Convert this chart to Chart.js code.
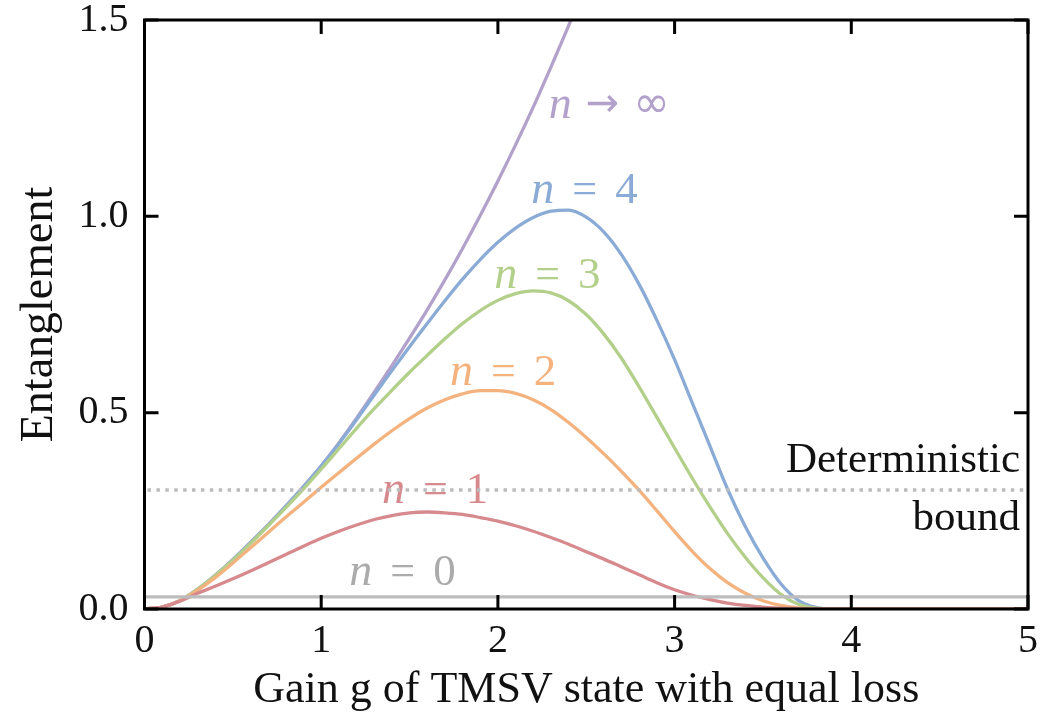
<!DOCTYPE html>
<html><head><meta charset="utf-8">
<script src="https://cdn.jsdelivr.net/npm/chart.js@4.4.0/dist/chart.umd.min.js"></script>
<style>html,body{margin:0;padding:0;background:#fff;}#wrap{width:1063px;height:714px;}</style>
</head><body><div id="wrap"><canvas id="c" width="1063" height="714"></canvas></div>
<script>
// ---- data ----
const gainX = [0.0,0.1,0.2,0.3,0.4,0.5,0.6,0.7,0.8,0.9,1.0,1.1,1.2,1.3,1.4,1.5,1.6,1.7,1.8,1.9,2.0,2.1,2.2,2.3,2.4,2.5,2.6,2.7,2.8,2.9,3.0,3.1,3.2,3.3,3.4,3.5,3.6,3.7,3.8,3.9,4.0,4.1,4.2,4.3,4.4,4.5,4.6,4.7,4.8,4.9,5.0];
const entN1 = [0,0.005,0.02,0.04,0.058,0.077,0.097,0.118,0.139,0.16,0.18,0.198,0.214,0.228,0.238,0.245,0.247,0.245,0.241,0.233,0.224,0.212,0.198,0.182,0.165,0.146,0.127,0.107,0.087,0.067,0.049,0.035,0.024,0.015,0.009,0.005,0.002,0.001,0,0,0,0,0,0,0,0,0,0,0,0,0];
const entN2 = [0,0.005,0.021,0.048,0.08,0.117,0.156,0.195,0.234,0.272,0.31,0.347,0.384,0.42,0.454,0.485,0.512,0.533,0.548,0.556,0.556,0.549,0.533,0.508,0.475,0.437,0.395,0.35,0.302,0.25,0.197,0.147,0.103,0.067,0.04,0.021,0.009,0.003,0,0,0,0,0,0,0,0,0,0,0,0,0];
const entN3 = [0,0.005,0.021,0.05,0.085,0.124,0.167,0.212,0.258,0.306,0.356,0.408,0.46,0.51,0.557,0.603,0.646,0.688,0.727,0.76,0.786,0.803,0.81,0.805,0.785,0.75,0.7,0.638,0.565,0.488,0.41,0.333,0.26,0.192,0.132,0.08,0.038,0.012,0.002,0,0,0,0,0,0,0,0,0,0,0,0];
const entN4 = [0,0.005,0.021,0.05,0.085,0.125,0.169,0.214,0.262,0.312,0.364,0.421,0.482,0.545,0.607,0.668,0.727,0.785,0.84,0.89,0.934,0.97,0.997,1.013,1.016,0.998,0.96,0.902,0.826,0.735,0.635,0.525,0.415,0.305,0.21,0.13,0.065,0.022,0.004,0,0,0,0,0,0,0,0,0,0,0,0];
const entInf = [0,0.005,0.021,0.05,0.086,0.126,0.17,0.215,0.262,0.312,0.365,0.423,0.486,0.552,0.62,0.69,0.762,0.838,0.918,1.002,1.09,1.182,1.278,1.38,1.485,1.595];
const entN0 = 0.031;          // n = 0 level
const detBound = 0.303;       // deterministic bound
const xTicks = [0,1,2,3,4,5];
const yTicks = [0,0.5,1.0,1.5];
const labelText = ['n → ∞','n = 4','n = 3','n = 2','n = 1','n = 0'];
const labelX = [2.63, 2.49, 2.28, 2.03, 1.645, 1.46];
const labelY = [1.283, 1.067, 0.85, 0.603, 0.303, 0.094];
const boundText = ['Deterministic','bound'];
const boundTextY = [0.377, 0.229];

const colInf='#b2a1cb', col4='#8aabd6', col3='#b3d08a', col2='#f4b27e', col1='#d78a8e', col0='#bdbdbd';
const labelColors=[colInf,col4,col3,col2,col1,'#ababab'];

const pts = arr => arr.map((v,i)=>({x:gainX[i], y:v}));
const flat = v => gainX.map(x=>({x:x,y:v}));
const SERIF = '"Liberation Serif", "Times New Roman", serif';
const SYM = '"DejaVu Sans", sans-serif';

const lineDs = (label, data, color, extra) => Object.assign({
  label, data, borderColor: color, borderWidth: 3.3, pointRadius: 0,
  fill: false, cubicInterpolationMode: 'monotone'
}, extra||{});

const decor = {
  id: 'decor',
  afterDatasetsDraw(chart) {
    const ctx = chart.ctx, a = chart.chartArea, xs = chart.scales.x, ys = chart.scales.y;
    ctx.save();
    // curve labels
    labelText.forEach((t,i)=>{
      const cx = xs.getPixelForValue(labelX[i]), cy = ys.getPixelForValue(labelY[i]);
      const parts = t.split(' ');
      ctx.fillStyle = labelColors[i];
      ctx.textBaseline = 'alphabetic';
      const fN = 'italic 46px ' + SERIF;
      const isArrow = parts[1] === '→';
      const fO = isArrow ? '40px ' + SYM : '44px ' + SERIF;
      const fV = isArrow ? '44px ' + SYM : '45px ' + SERIF;
      ctx.font = fN; const wN = ctx.measureText(parts[0]).width;
      ctx.font = fO; const wO = ctx.measureText(parts[1]).width;
      ctx.font = fV; const wV = ctx.measureText(parts[2]).width;
      const gap = isArrow ? 14 : 18;
      const total = wN + gap + wO + gap + wV;
      let x0 = cx - total/2; const by = cy + 13;
      ctx.textAlign = 'left';
      ctx.font = fN; ctx.fillText(parts[0], x0, by); x0 += wN + gap;
      ctx.font = fO; ctx.fillText(parts[1], x0, isArrow ? by - 2 : by); x0 += wO + gap;
      ctx.font = fV; ctx.fillText(parts[2], x0, isArrow ? by - 1 : by);
    });
    // bound text
    ctx.fillStyle = '#111'; ctx.font = '43px ' + SERIF; ctx.textAlign = 'right'; ctx.textBaseline = 'middle';
    boundText.forEach((t,i)=> ctx.fillText(t, a.right - 8, ys.getPixelForValue(boundTextY[i])));
    // dotted deterministic bound on top
    ctx.strokeStyle = '#bcbcbc'; ctx.lineWidth = 3.5; ctx.setLineDash([3.5,5.4]);
    ctx.beginPath(); const by2 = ys.getPixelForValue(detBound);
    ctx.moveTo(a.left+3, by2); ctx.lineTo(a.right-2, by2); ctx.stroke();
    ctx.setLineDash([]);
    // frame and inward ticks
    ctx.strokeStyle = '#000'; ctx.lineWidth = 3;
    ctx.strokeRect(a.left, a.top, a.right - a.left, a.bottom - a.top);
    const L = 14;
    ctx.beginPath();
    xTicks.forEach(v=>{ const p = xs.getPixelForValue(v);
      ctx.moveTo(p, a.bottom); ctx.lineTo(p, a.bottom - L);
      ctx.moveTo(p, a.top); ctx.lineTo(p, a.top + L); });
    yTicks.forEach(v=>{ const p = ys.getPixelForValue(v);
      ctx.moveTo(a.left, p); ctx.lineTo(a.left + L, p);
      ctx.moveTo(a.right, p); ctx.lineTo(a.right - L, p); });
    ctx.stroke();
    ctx.restore();
  }
};

new Chart(document.getElementById('c'), {
  type: 'line',
  data: { datasets: [
    lineDs('n = 0', flat(entN0), col0),
    lineDs('n = 1', pts(entN1), col1),
    lineDs('n = 2', pts(entN2), col2),
    lineDs('n = 3', pts(entN3), col3),
    lineDs('n = 4', pts(entN4), col4),
    lineDs('n → ∞', pts(entInf), colInf)
  ]},
  options: {
    responsive: false, animation: false, devicePixelRatio: 1,
    layout: { padding: { top: 20, right: 35, left: 0, bottom: 0 } },
    plugins: { legend: { display: false }, tooltip: { enabled: false } },
    scales: {
      x: { type: 'linear', min: 0, max: 5,
        afterBuildTicks: s => { s.ticks = xTicks.map(v=>({value:v})); },
        ticks: { font: { family: SERIF, size: 40, lineHeight: 1.0 }, color: '#111', padding: 12, maxRotation: 0, callback: v => String(v) },
        grid: { display: false, drawTicks: false }, border: { display: false },
        title: { display: true, text: 'Gain g of TMSV state with equal loss', color: '#111',
                 font: { family: SERIF, size: 44, lineHeight: 1.05 }, padding: { top: 0, bottom: 0 } },
        afterFit: s => { s.height = 105; s.paddingLeft = 0; s.paddingRight = 0; } },
      y: { type: 'linear', min: 0, max: 1.5,
        afterBuildTicks: s => { s.ticks = yTicks.map(v=>({value:v})); },
        ticks: { font: { family: SERIF, size: 40, lineHeight: 1.0 }, color: '#111', padding: 16, callback: v => Number(v).toFixed(1) },
        grid: { display: false, drawTicks: false }, border: { display: false },
        title: { display: true, text: 'Entanglement', color: '#111',
                 font: { family: SERIF, size: 46 }, padding: { top: 12, bottom: 0 } },
        afterFit: s => { s.width = 144.5; s.paddingTop = 0; s.paddingBottom = 0; } }
    }
  },
  plugins: [decor]
});
</script></body></html>
